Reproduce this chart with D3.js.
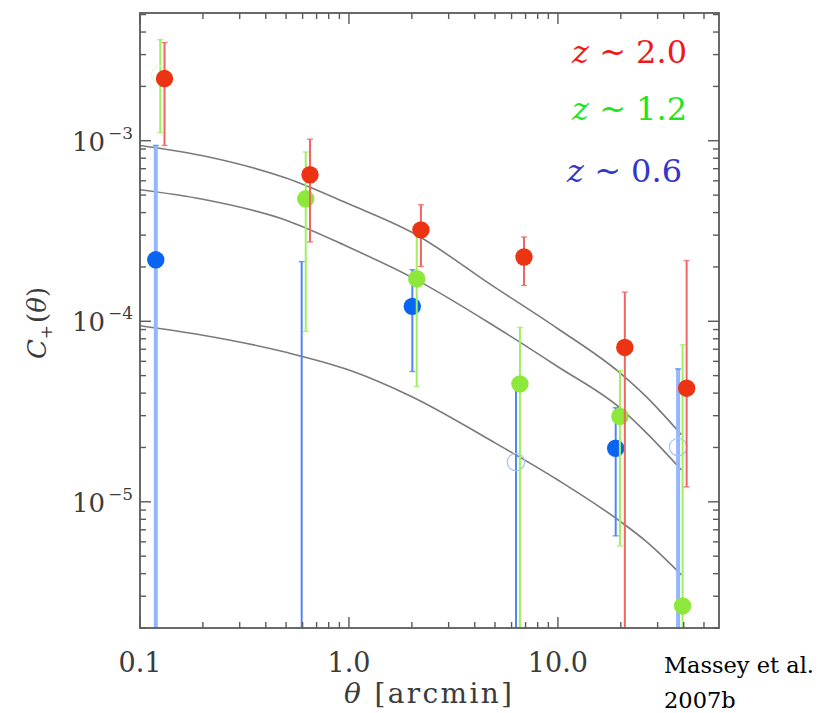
<!DOCTYPE html>
<html>
<head>
<meta charset="utf-8">
<script src="https://cdn.jsdelivr.net/npm/d3@7"></script>
<style>
  body { margin: 0; background: #fff; }
  svg { display: block; }
  .serif { font-family: "DejaVu Serif", serif; }
</style>
</head>
<body>
<svg id="chart" width="821" height="713"></svg>
<script>
// Angular scale (arcmin) and C+(theta) per redshift slice
const thetaRed   = [0.131, 0.651, 2.21, 6.88, 20.9, 41.3];
const valueRed   = [2.21e-3, 6.48e-4, 3.21e-4, 2.27e-4, 7.16e-5, 4.26e-5];
const upperRed   = [3.50e-3, 1.02e-3, 4.42e-4, 2.93e-4, 1.45e-4, 2.17e-4];
const lowerRed   = [9.42e-4, 2.75e-4, 2.01e-4, 1.58e-4, 0, 1.21e-5];
const openRed    = [false, false, false, false, false, false];

const thetaGreen = [0.125, 0.621, 2.11, 6.58, 19.8, 39.5];
const valueGreen = [2.32e-3, 4.77e-4, 1.72e-4, 4.50e-5, 2.97e-5, 2.65e-6];
const upperGreen = [3.63e-3, 8.66e-4, 3.42e-4, 9.24e-5, 5.34e-5, 7.41e-5];
const lowerGreen = [1.11e-3, 8.78e-5, 4.35e-5, 0, 5.70e-6, 0];
const openGreen  = [true, false, false, false, false, false];

const thetaBlue  = [0.119, 0.594, 2.01, 6.30, 18.9, 37.6];
const valueBlue  = [2.19e-4, null, 1.21e-4, 1.66e-5, 1.98e-5, 2.01e-5];
const upperBlue  = [9.42e-4, 2.14e-4, 1.93e-4, 4.45e-5, 3.32e-5, 5.45e-5];
const lowerBlue  = [0, 0, 5.27e-5, 0, 6.48e-6, 0];
const openBlue   = [false, false, false, true, false, true];
const wideBlue   = [true, false, false, false, false, true];

// Model predictions for the three slices
const modelTheta = [0.1, 0.2, 0.5, 1, 2, 5, 10, 20, 26.6, 39];
const modelHigh  = [9.42e-4, 8.26e-4, 6.21e-4, 4.46e-4, 3.11e-4, 1.54e-4, 9.09e-5, 5.13e-5, 3.80e-5, 2.35e-5];
const modelMid   = [5.35e-4, 4.74e-4, 3.63e-4, 2.57e-4, 1.75e-4, 9.36e-5, 5.60e-5, 3.28e-5, 2.40e-5, 1.50e-5];
const modelLow   = [9.44e-5, 8.37e-5, 6.73e-5, 5.37e-5, 3.82e-5, 2.12e-5, 1.32e-5, 7.75e-6, 6.00e-6, 3.94e-6];

// Tick labels
const xTickValues = [0.1, 1, 10];
const xTickLabels = ["0.1", "1.0", "10.0"];
const yTickValues = [1e-3, 1e-4, 1e-5];
const yTickExps   = ["\u22123", "\u22124", "\u22125"];

const legendLabels = ["2.0", "1.2", "0.6"];
const legendColors = ["#f01818", "#1ee61e", "#3436c8"];

const svg = d3.select("#chart");
const L = 140, R = 719, T = 13, B = 628;

const x = d3.scaleLog().domain([0.1, 59]).range([L, R]);
const y = d3.scaleLog().domain([2e-6, 5.1e-3]).range([B, T]);

const isMajor = v => Math.abs(Math.log10(v) - Math.round(Math.log10(v))) < 1e-6;
const axisColor = "#5a5a5a";
const labelColor = "#3c3c3c";

svg.append("defs").append("clipPath").attr("id", "clip")
  .append("rect").attr("x", L).attr("y", T).attr("width", R - L).attr("height", B - T);
const plot = svg.append("g");

// Frame and ticks
const axes = svg.append("g").attr("stroke", axisColor).attr("stroke-width", 1.4).attr("fill", "none");
x.ticks().forEach(v => {
  const len = isMajor(v) ? 11 : 6;
  const px = x(v);
  axes.append("line").attr("x1", px).attr("x2", px).attr("y1", B).attr("y2", B - len);
  axes.append("line").attr("x1", px).attr("x2", px).attr("y1", T).attr("y2", T + len);
});
y.ticks().forEach(v => {
  const len = isMajor(v) ? 11 : 6;
  const py = y(v);
  axes.append("line").attr("x1", L).attr("x2", L + len).attr("y1", py).attr("y2", py);
  axes.append("line").attr("x1", R).attr("x2", R - len).attr("y1", py).attr("y2", py);
});
axes.append("rect").attr("x", L).attr("y", T).attr("width", R - L).attr("height", B - T)
  .attr("stroke-width", 1.8);

// X tick labels
svg.append("g").selectAll("text").data(xTickValues).join("text")
  .attr("class", "serif")
  .attr("x", d => x(d)).attr("y", 672)
  .attr("text-anchor", "middle")
  .attr("font-size", 27)
  .attr("fill", labelColor)
  .text((d, i) => xTickLabels[i]);

// Y tick labels as powers of ten
const yl = svg.append("g");
yTickValues.forEach((v, i) => {
  const t = yl.append("text")
    .attr("class", "serif")
    .attr("x", 72).attr("y", y(v) + 10)
    .attr("font-size", 26)
    .attr("fill", labelColor);
  t.append("tspan").text("10");
  t.append("tspan").attr("dy", -12).attr("dx", 3).attr("font-size", 17).text(yTickExps[i]);
});

// Axis titles
const xTitle = svg.append("text")
  .attr("class", "serif")
  .attr("x", 344).attr("y", 703)
  .attr("font-size", 28)
  .attr("fill", labelColor)
  .attr("textLength", 168).attr("lengthAdjust", "spacing");
xTitle.append("tspan").attr("font-style", "italic").text("\u03b8");
xTitle.append("tspan").text(" [arcmin]");

const yTitle = svg.append("text")
  .attr("class", "serif")
  .attr("transform", "translate(46,323) rotate(-90)")
  .attr("text-anchor", "middle")
  .attr("font-size", 26)
  .attr("fill", labelColor);
yTitle.append("tspan").attr("font-style", "italic").text("C");
yTitle.append("tspan").attr("font-size", 17).attr("dy", 6).text("+");
yTitle.append("tspan").attr("dy", -6).attr("dx", 2).text("(");
yTitle.append("tspan").attr("font-style", "italic").text("\u03b8");
yTitle.append("tspan").text(")");

// Model curves
const line = d3.line().x(d => x(d[0])).y(d => y(d[1])).curve(d3.curveMonotoneX);
[modelHigh, modelMid, modelLow].forEach(m => {
  plot.append("path")
    .datum(modelTheta.map((t, i) => [t, m[i]]))
    .attr("d", line)
    .attr("fill", "none").attr("stroke", "#7a7a7a").attr("stroke-width", 1.6)
    .attr("clip-path", "url(#clip)");
});

// Measurements with error bars
const series = [
  { theta: thetaBlue, val: valueBlue, hi: upperBlue, lo: lowerBlue, open: openBlue, wide: wideBlue,
    dot: "#0a64f2", bar: "#4f86f7", wideBar: "#94b6ff", ring: "#a9c1ff" },
  { theta: thetaGreen, val: valueGreen, hi: upperGreen, lo: lowerGreen, open: openGreen, wide: null,
    dot: "#8ee83c", bar: "#9ff060", wideBar: "#9ff060", ring: "#e2f8d6" },
  { theta: thetaRed, val: valueRed, hi: upperRed, lo: lowerRed, open: openRed, wide: null,
    dot: "#ec3414", bar: "#f06464", wideBar: "#f06464", ring: "#f5a0a0" }
];

const yMin = y.domain()[0];
series.forEach(s => {
  const g = plot.append("g").attr("clip-path", "url(#clip)");
  s.theta.forEach((t, i) => {
    const px = x(t);
    const yHi = y(s.hi[i]);
    const below = !(s.lo[i] > yMin);
    const yLo = below ? B + 2 : y(s.lo[i]);
    const wide = s.wide && s.wide[i];
    g.append("line").attr("x1", px).attr("x2", px).attr("y1", yHi).attr("y2", yLo)
      .attr("stroke", wide ? s.wideBar : s.bar).attr("stroke-width", wide ? 4 : 2);
    g.append("line").attr("x1", px - 3).attr("x2", px + 3).attr("y1", yHi).attr("y2", yHi)
      .attr("stroke", s.bar).attr("stroke-width", 1.4).attr("opacity", 0.8);
    if (!below) {
      g.append("line").attr("x1", px - 3).attr("x2", px + 3).attr("y1", yLo).attr("y2", yLo)
        .attr("stroke", s.bar).attr("stroke-width", 1.4).attr("opacity", 0.8);
    }
  });
  s.theta.forEach((t, i) => {
    if (s.val[i] == null) return;
    const c = g.append("circle").attr("cx", x(t)).attr("cy", y(s.val[i])).attr("r", 8.7);
    if (s.open[i]) {
      c.attr("fill", "none").attr("stroke", s.ring).attr("stroke-width", 1.2);
    } else {
      c.attr("fill", s.dot);
    }
  });
});

// Redshift legend
const legendY = [63, 120, 182];
const legendX = [687, 687, 682];
legendLabels.forEach((lab, i) => {
  const t = svg.append("text")
    .attr("class", "serif")
    .attr("x", legendX[i]).attr("y", legendY[i])
    .attr("text-anchor", "end")
    .attr("font-size", 32)
    .attr("fill", legendColors[i]);
  t.append("tspan").attr("font-style", "italic").text("z");
  t.append("tspan").text(" ~ " + lab);
});

// Reference note
const note = svg.append("text")
  .attr("class", "serif")
  .attr("font-size", 22.5)
  .attr("fill", "#000");
note.append("tspan").attr("x", 664).attr("y", 673).text("Massey et al.");
note.append("tspan").attr("x", 664).attr("y", 708).text("2007b");
</script>
</body>
</html>
